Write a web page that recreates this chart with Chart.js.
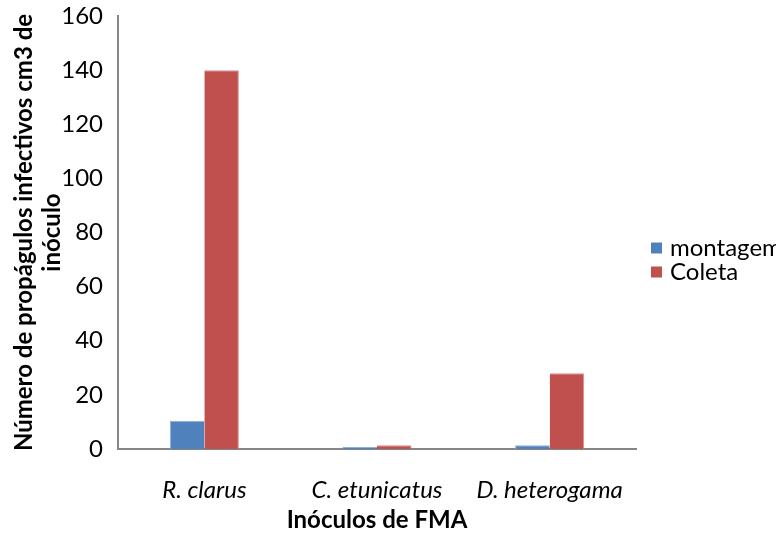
<!DOCTYPE html>
<html>
<head>
<meta charset="utf-8">
<script src="https://cdn.jsdelivr.net/npm/chart.js@4"></script>
<style>
  html, body { margin: 0; padding: 0; background: #fff; }
  #wrap { width: 776px; height: 535px; }
</style>
</head>
<body>
<div id="wrap"><canvas id="myChart" width="776" height="535"></canvas></div>
<script>
const categories = ['R. clarus', 'C. etunicatus', 'D. heterogama']
const seriesNames = ['montagem', 'Coleta']
const montagem = [10.4, 0.7, 1.35]
const coleta = [140, 1.35, 28]
const yTicks = [0, 20, 40, 60, 80, 100, 120, 140, 160]

const fontFam = 'Lato, "Open Sans", sans-serif'
const axisGray = '#868686'

// legend drawn by hand so it can sit tight to the plot like the Excel one
const sideLegend = {
  id: 'sideLegend',
  afterDraw(chart) {
    const c = chart.ctx
    const area = chart.chartArea
    const x0 = area.right + 15
    const yMid = chart.height / 2 - 7
    const step = 24
    c.save()
    c.font = '24px ' + fontFam
    c.textBaseline = 'middle'
    chart.data.datasets.forEach((ds, i) => {
      const y = yMid + (i - 0.5) * step
      c.fillStyle = ds.backgroundColor
      c.fillRect(x0, y - 6, 11, 11)
      c.fillStyle = '#000'
      c.fillText(ds.label, x0 + 19, y)
    })
    c.restore()
  }
}

const ctx = document.getElementById('myChart')

new Chart(ctx, {
  type: 'bar',
  data: {
    labels: categories,
    datasets: [{
      label: seriesNames[0],
      data: montagem,
      backgroundColor: '#4F81BD',
      borderColor: '#8FB0DA',
      borderWidth: {top: 1, left: 1, right: 0, bottom: 0},
      categoryPercentage: 0.4,
      barPercentage: 1
    }, {
      label: seriesNames[1],
      data: coleta,
      backgroundColor: '#C0504D',
      borderColor: '#E08C8A',
      borderWidth: {top: 1, left: 0, right: 1, bottom: 0},
      categoryPercentage: 0.4,
      barPercentage: 1
    }]
  },
  plugins: [sideLegend],
  options: {
    responsive: false,
    animation: false,
    layout: {
      padding: {top: 0, right: 140, left: 4, bottom: 0}
    },
    plugins: {
      tooltip: {enabled: false},
      legend: {display: false}
    },
    scales: {
      x: {
        afterFit: (scale) => { scale.height = 86 },
        grid: {display: false, drawTicks: false},
        border: {color: axisGray, width: 2},
        ticks: {
          color: '#000',
          padding: 27,
          font: {family: fontFam, size: 24, style: 'italic', lineHeight: 1.2}
        },
        title: {
          display: true,
          text: 'Inóculos de FMA',
          color: '#000',
          padding: {top: 0, bottom: 0},
          font: {family: fontFam, size: 24, weight: 'bold', lineHeight: 1.2}
        }
      },
      y: {
        min: 0,
        max: 160,
        afterBuildTicks: (axis) => {
          axis.ticks = yTicks.map(v => ({value: v}))
        },
        afterFit: (scale) => {
          scale.width = 114
          scale.paddingTop = 16
        },
        grid: {display: false, drawOnChartArea: false, drawTicks: true, tickLength: 7, color: axisGray, lineWidth: 2},
        border: {color: axisGray, width: 2},
        ticks: {
          color: '#000',
          padding: 8,
          font: {family: fontFam, size: 24}
        },
        title: {
          display: true,
          text: ['Número de propágulos infectivos cm3 de', 'inóculo'],
          color: '#000',
          padding: {top: 6, bottom: 0},
          font: {family: fontFam, size: 24, weight: 'bold', lineHeight: 1.17}
        }
      }
    }
  }
})
</script>
</body>
</html>
